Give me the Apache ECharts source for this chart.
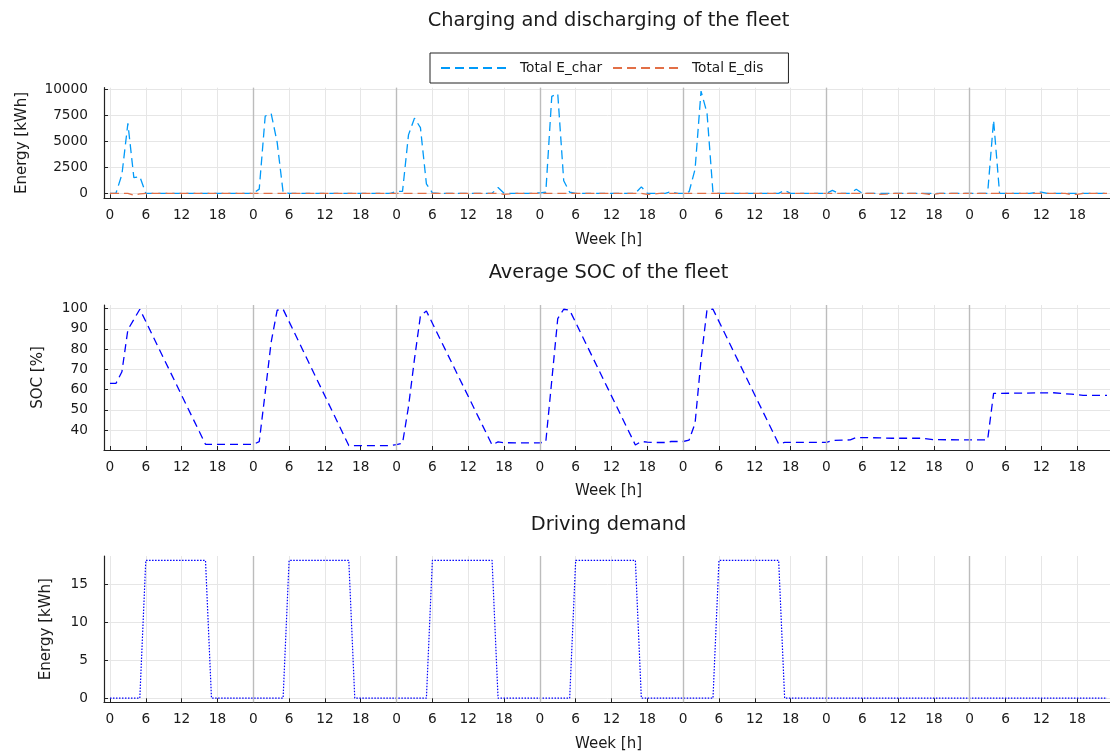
<!DOCTYPE html>
<html>
<head>
<meta charset="utf-8">
<title>Fleet charging</title>
<script src="https://cdn.jsdelivr.net/npm/echarts@6/dist/echarts.min.js"></script>
<style>
  html, body { margin: 0; padding: 0; background: #ffffff; }
  #chart { width: 1110px; height: 752px; }
</style>
</head>
<body>
<div id="chart"></div>
<script>
// Hourly totals over one week (hour 0 = Monday 00:00), kWh
const eChar = [
  0, 0, 1800, 6700, 1500, 1600, 0, 0, 0, 0, 0, 0, 0, 0, 0, 0, 0, 0, 0, 0, 0, 0, 0, 0,
  0, 400, 7400, 7650, 4900, 100, 0, 0, 0, 0, 0, 0, 0, 0, 0, 0, 0, 0, 0, 0, 0, 0, 0, 0,
  180, 180, 5600, 7200, 6300, 900, 50, 0, 0, 0, 0, 0, 0, 0, 0, 0, 0, 550, 0, 0, 0, 0, 0, 0,
  50, 100, 9300, 9550, 1200, 100, 0, 0, 0, 0, 0, 0, 0, 0, 0, 0, 0, 620, 0, 0, 0, 0, 150, 0,
  0, 150, 2300, 9800, 7700, 60, 0, 0, 0, 0, 0, 0, 0, 0, 0, 0, 0, 280, 0, 0, 0, 0, 0, 0,
  0, 280, 0, 0, 0, 380, 0, 0, 0, 0, 0, 0, 0, 0, 0, 0, 0, 0, 0, 0, 0, 0, 0, 0,
  0, 0, 0, 0, 7000, 0, 0, 0, 0, 0, 0, 60, 120, 0, 0, 0, 0, 0, 0, 0, 0, 0, 0, 0
];

const eDis = [
  0, 0, 0, 0, -180, -60, 0, 0, 0, 0, 0, 0, 0, 0, 0, 0, 0, 0, 0, 0, 0, 0, 0, 0,
  0, 0, 0, 0, 0, 0, 0, 0, 0, 0, 0, 0, 0, 0, 0, 0, 0, 0, 0, 0, 0, 0, 0, 0,
  0, 0, 0, 0, 0, 0, 0, 0, 0, 0, 0, 0, 0, 0, 0, 0, 0, 0, -100, -60, 0, 0, 0, 0,
  0, 0, 0, 0, 0, 0, 0, 0, 0, 0, 0, 0, 0, 0, 0, 0, 0, 0, -100, -90, 0, 0, 0, 0,
  0, 0, 0, 0, 0, 0, 0, 0, 0, 0, 0, 0, 0, 0, 0, 0, 0, 0, 0, 0, 0, 0, 0, 0,
  0, 0, 0, 0, 0, 0, 0, 0, 0, -100, -80, 0, 0, 0, 0, 0, 0, -90, -100, 0, 0, 0, 0, 0,
  0, 0, 0, 0, 0, 0, 0, 0, 0, 0, 0, 0, 0, 0, 0, 0, 0, -120, -100, 0, 0, 0, 0, 0
];

// Average state of charge, [hour, %] at the corners of the profile
const socPoints = [
  [0, 63.0], [1, 63.0], [2, 68.8], [3, 89.6], [5, 99.7], [16, 32.9], [24, 32.9],
  [25, 34.2], [26, 58.5], [27, 83.5], [28, 99.2], [29, 99.7], [40, 32.3], [47, 32.3],
  [48, 32.8], [49, 33.4], [50, 51.5], [51, 75.0], [52, 96.5], [53, 98.8], [64, 32.6],
  [65, 34.1], [66, 33.7], [72, 33.6], [73, 34.2], [74, 64.5], [75, 95.1], [76, 99.7],
  [77, 99.2], [88, 32.6], [89, 34.3], [90, 34.0], [91, 33.8], [93, 33.8], [94, 34.3],
  [96, 34.3], [97, 35.0], [98, 43.3], [99, 74.8], [100, 99.5], [101, 99.7], [112, 33.1],
  [113, 33.9], [120, 33.9], [121, 34.8], [124, 35.1], [125, 36.3], [129, 36.1],
  [131, 35.9], [136, 35.9], [138, 35.2], [147, 35.1], [148, 58.1], [155, 58.3],
  [158, 58.4], [161, 57.7], [163, 57.1], [167, 57.1]
];

// Hourly driving demand per vehicle, kWh
const demand = [
  0, 0, 0, 0, 0, 0, 18.2, 18.2, 18.2, 18.2, 18.2, 18.2, 18.2, 18.2, 18.2, 18.2, 18.2, 0, 0, 0, 0, 0, 0, 0,
  0, 0, 0, 0, 0, 0, 18.2, 18.2, 18.2, 18.2, 18.2, 18.2, 18.2, 18.2, 18.2, 18.2, 18.2, 0, 0, 0, 0, 0, 0, 0,
  0, 0, 0, 0, 0, 0, 18.2, 18.2, 18.2, 18.2, 18.2, 18.2, 18.2, 18.2, 18.2, 18.2, 18.2, 0, 0, 0, 0, 0, 0, 0,
  0, 0, 0, 0, 0, 0, 18.2, 18.2, 18.2, 18.2, 18.2, 18.2, 18.2, 18.2, 18.2, 18.2, 18.2, 0, 0, 0, 0, 0, 0, 0,
  0, 0, 0, 0, 0, 0, 18.2, 18.2, 18.2, 18.2, 18.2, 18.2, 18.2, 18.2, 18.2, 18.2, 18.2, 0, 0, 0, 0, 0, 0, 0,
  0, 0, 0, 0, 0, 0, 0, 0, 0, 0, 0, 0, 0, 0, 0, 0, 0, 0, 0, 0, 0, 0, 0, 0,
  0, 0, 0, 0, 0, 0, 0, 0, 0, 0, 0, 0, 0, 0, 0, 0, 0, 0, 0, 0, 0, 0, 0, 0
];

// Axis ticks
const xTicks = [0, 6, 12, 18, 24, 30, 36, 42, 48, 54, 60, 66, 72, 78, 84, 90, 96, 102,
  108, 114, 120, 126, 132, 138, 144, 150, 156, 162];
const dayBreaks = [24, 48, 72, 96, 120, 144];
const energyTicks = [0, 2500, 5000, 7500, 10000];
const socTicks = [40, 50, 60, 70, 80, 90, 100];
const demandTicks = [0, 5, 10, 15];

const FONT = 'DejaVu Sans';
const TEXT = '#1a1a1a';
const GRIDLINE = '#e6e6e6';

const withHours = arr => arr.map((v, i) => [i, v]);

const panels = [
  { top: 87.7, height: 110.6, min: -480, max: 10125, ticks: energyTicks, name: 'Energy [kWh]', gap: 74 },
  { top: 305, height: 145, min: 30.1, max: 101.8, ticks: socTicks, name: 'SOC [%]', gap: 58 },
  { top: 556, height: 146.3, min: -0.55, max: 18.78, ticks: demandTicks, name: 'Energy [kWh]', gap: 50 }
];

const grids = panels.map(p => ({
  left: 104, right: -3, top: p.top, height: p.height,
  outerBoundsMode: 'none', containLabel: false
}));

const xAxes = panels.map((p, i) => ({
  type: 'value', gridIndex: i, min: -1, max: 168,
  name: 'Week [h]', nameLocation: 'middle', nameGap: 34,
  nameTextStyle: { fontFamily: FONT, fontSize: 15, color: TEXT },
  axisLine: { show: true, onZero: false, lineStyle: { color: '#222', width: 1.2 } },
  axisTick: { show: true, inside: true, length: 4, customValues: xTicks, lineStyle: { color: '#222', width: 1 } },
  axisLabel: { customValues: xTicks, margin: 10, fontFamily: FONT, fontSize: 13.7, color: TEXT,
    formatter: v => String(v % 24) },
  splitLine: { show: true, lineStyle: { color: GRIDLINE, width: 1 } }
}));

const yAxes = panels.map((p, i) => ({
  type: 'value', gridIndex: i, min: p.min, max: p.max,
  name: p.name, nameLocation: 'middle', nameGap: p.gap, nameRotate: 90,
  nameTextStyle: { fontFamily: FONT, fontSize: 15, color: TEXT },
  axisLine: { show: true, onZero: false, lineStyle: { color: '#222', width: 1.2 } },
  axisTick: { show: true, inside: true, length: 4, customValues: p.ticks, lineStyle: { color: '#222', width: 1 } },
  axisLabel: { customValues: p.ticks, margin: 16, fontFamily: FONT, fontSize: 13.7, color: TEXT,
    formatter: v => String(v) },
  splitLine: { show: true, lineStyle: { color: GRIDLINE, width: 1 } }
}));

const dayLines = {
  silent: true, symbol: 'none', animation: false,
  label: { show: false },
  lineStyle: { color: '#bcbcbc', width: 1.4, type: 'solid' },
  data: dayBreaks.map(h => ({ xAxis: h }))
};

const titleStyle = { fontFamily: FONT, fontSize: 19.4, fontWeight: 'normal', color: TEXT };

const option = {
  animation: false,
  backgroundColor: '#ffffff',
  title: [
    { text: 'Charging and discharging of the fleet', left: 608.5, top: 11, textAlign: 'center', padding: 0, textStyle: titleStyle },
    { text: 'Average SOC of the fleet', left: 608.5, top: 263, textAlign: 'center', padding: 0, textStyle: titleStyle },
    { text: 'Driving demand', left: 608.5, top: 515, textAlign: 'center', padding: 0, textStyle: titleStyle }
  ],
  legend: {
    left: 430, top: 53, orient: 'horizontal',
    padding: [8, 25, 8, 10],
    borderColor: '#222', borderWidth: 1,
    itemWidth: 68, itemHeight: 14, itemGap: 10,
    itemStyle: { opacity: 0 },
    textStyle: { fontFamily: FONT, fontSize: 13.7, color: TEXT, padding: [0, 0, 0, 6] },
    data: ['Total E_char', 'Total E_dis']
  },
  grid: grids,
  xAxis: xAxes,
  yAxis: yAxes,
  series: [
    {
      name: 'Total E_char', type: 'line', xAxisIndex: 0, yAxisIndex: 0,
      data: withHours(eChar), symbol: 'none', showSymbol: false,
      color: '#009af9',
      lineStyle: { color: '#009af9', width: 1.3, type: [9, 5] },
      markLine: dayLines, z: 3
    },
    {
      name: 'Total E_dis', type: 'line', xAxisIndex: 0, yAxisIndex: 0,
      data: withHours(eDis), symbol: 'none', showSymbol: false,
      color: '#e26f46',
      lineStyle: { color: '#e26f46', width: 1.3, type: [9, 5] }, z: 4
    },
    {
      name: 'SOC', type: 'line', xAxisIndex: 1, yAxisIndex: 1,
      data: socPoints, symbol: 'none', showSymbol: false,
      color: '#0000ff',
      lineStyle: { color: '#0000ff', width: 1.3, type: [8, 5] },
      markLine: dayLines, z: 3
    },
    {
      name: 'Demand', type: 'line', xAxisIndex: 2, yAxisIndex: 2,
      data: withHours(demand), symbol: 'none', showSymbol: false,
      color: '#0000ff',
      lineStyle: { color: '#0000ff', width: 1.2, type: [1.5, 1.5] },
      markLine: dayLines, z: 3
    }
  ]
};

const chart = echarts.init(document.getElementById('chart'), null, { renderer: 'canvas' });
chart.setOption(option);
</script>
</body>
</html>
